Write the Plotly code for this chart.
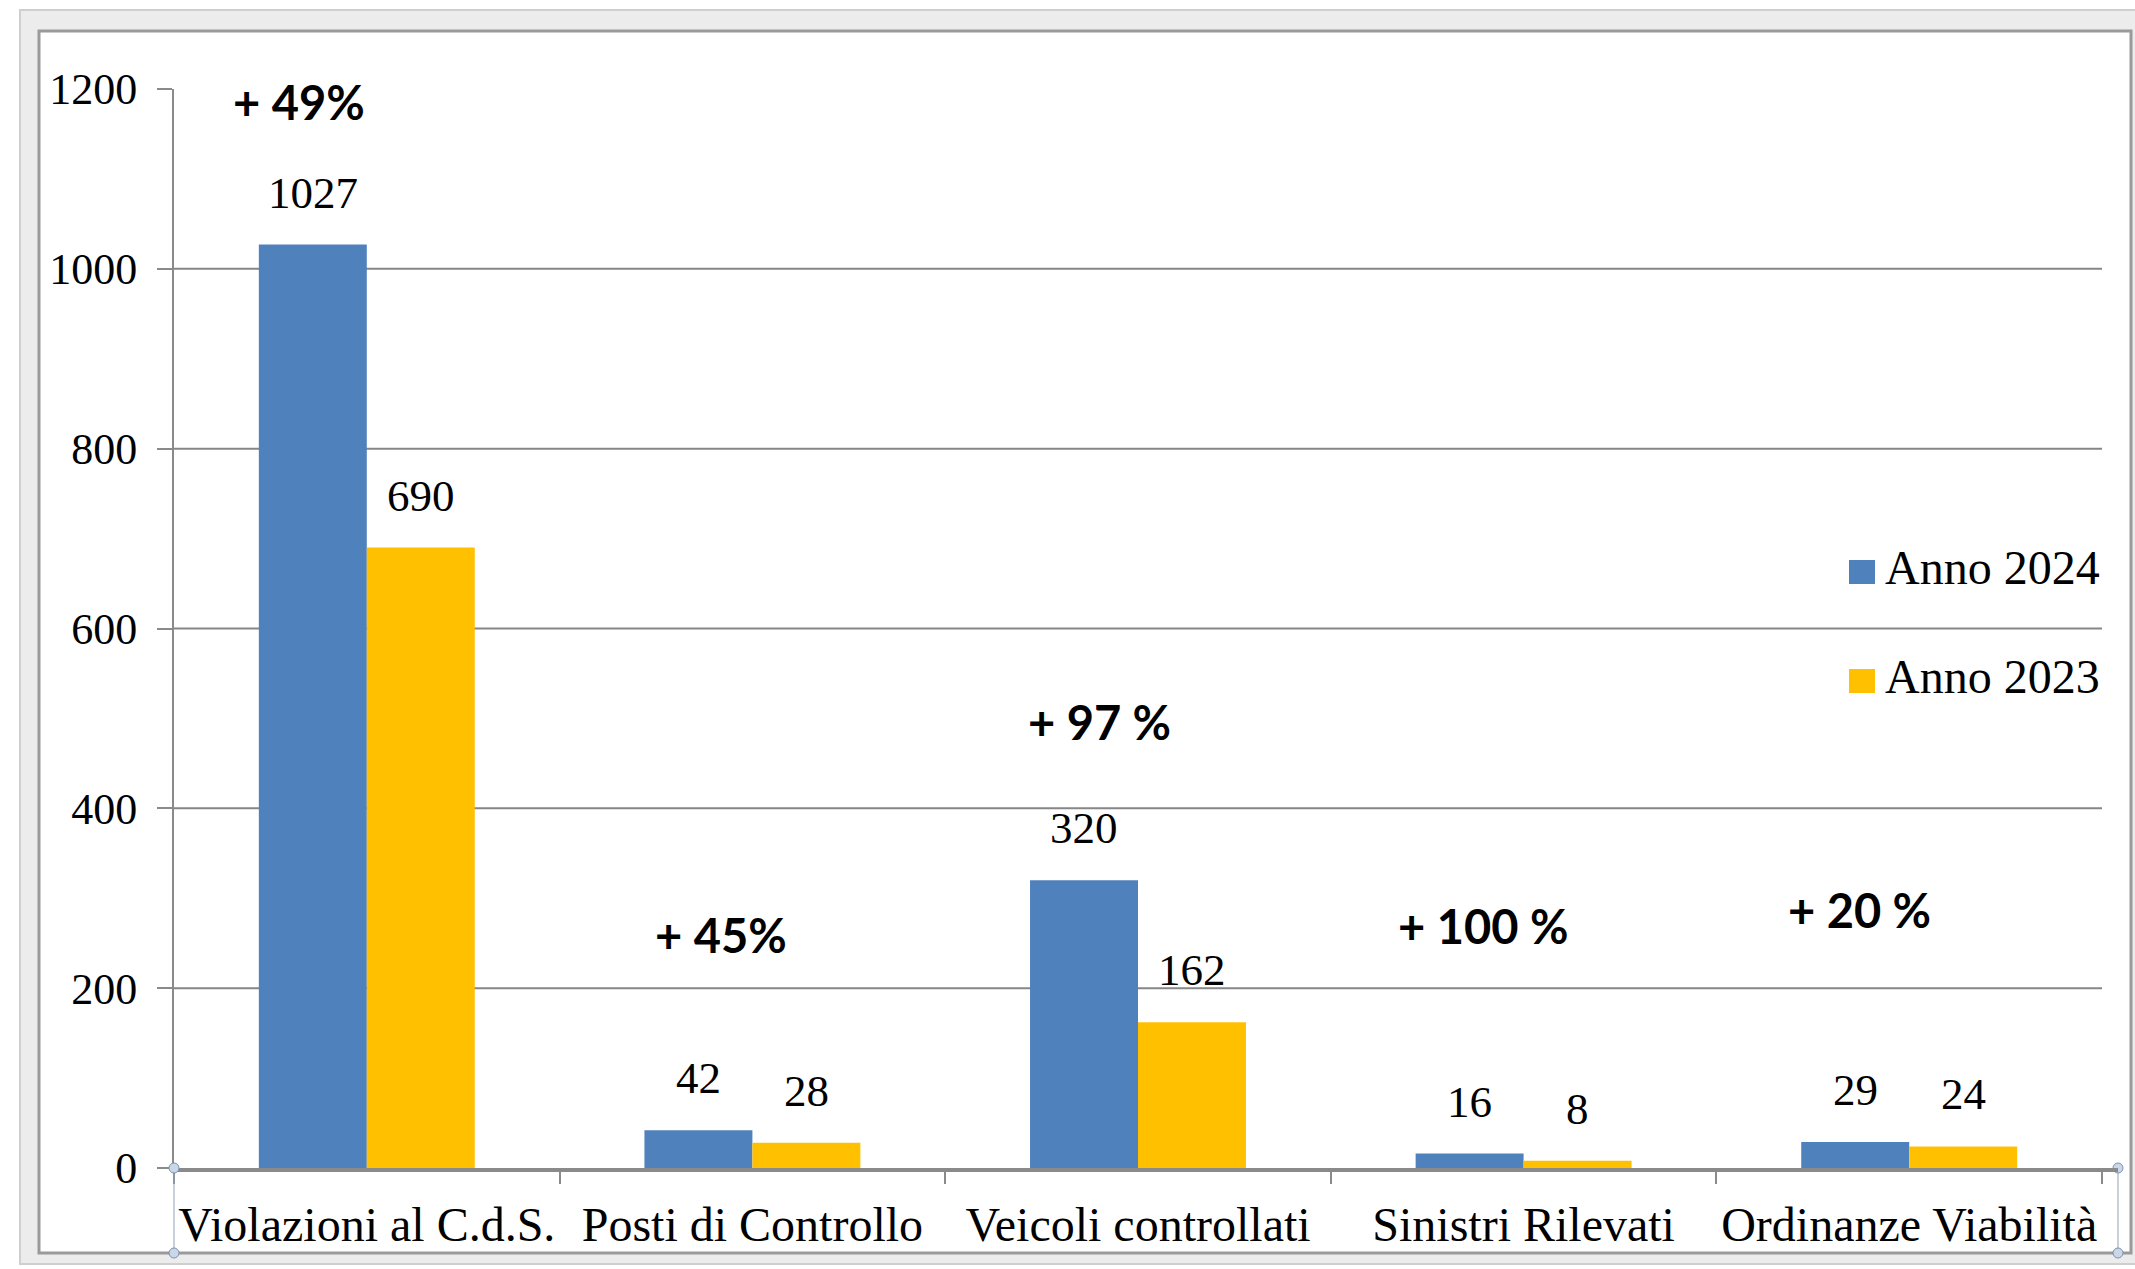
import plotly.graph_objects as go

# ---------------- data ----------------
categories = ["Violazioni al C.d.S.", "Posti di Controllo", "Veicoli controllati",
              "Sinistri Rilevati", "Ordinanze Viabilità"]
anno_2024 = [1027, 42, 320, 16, 29]
anno_2023 = [690, 28, 162, 8, 24]
variazioni = ["+ 49%", "+ 45%", "+ 97 %", "+ 100 %", "+ 20 %"]
y_ticks = [0, 200, 400, 600, 800, 1000, 1200]
series_names = ["Anno 2024", "Anno 2023"]

# ---------------- layout constants ----------------
W, H = 2135, 1269
ML, MR, MT, MB = 174, 33, 89, 101
PW = W - ML - MR
PH = H - MT - MB


def px(x):
    return (x - ML) / PW


def py(y):
    return (H - MB - y) / PH


BLUE = "#4F81BD"
GOLD = "#FFC000"
GRID = "#868686"
AXIS = "#8a8a8a"
SERIF = "Liberation Serif, Times New Roman, serif"
BARGAP = 0.44
HALF = (1 - BARGAP) / 4  # offset of each bar centre from category centre

# positions (category index, y value) of the percentage labels
pct_pos = [(-0.175, 1185), (0.919, 259), (1.901, 496), (2.894, 269), (3.872, 287)]

fig = go.Figure()
fig.add_trace(go.Bar(x=categories, y=anno_2024, name=series_names[0],
                     marker=dict(color=BLUE, line=dict(width=0)), showlegend=False))
fig.add_trace(go.Bar(x=categories, y=anno_2023, name=series_names[1],
                     marker=dict(color=GOLD, line=dict(width=0)), showlegend=False))

annotations = []
# value labels
for vals, off in ((anno_2024, -HALF), (anno_2023, HALF)):
    for i, v in enumerate(vals):
        annotations.append(dict(x=i + off, y=v, xref="x", yref="y", text=str(v),
                                showarrow=False, yanchor="middle", xanchor="center",
                                yshift=52, font=dict(family=SERIF, size=45, color="black")))
# percentage labels
for (xx, yy), t in zip(pct_pos, variazioni):
    annotations.append(dict(x=xx, y=yy, xref="x", yref="y", text="<b>" + t + "</b>",
                            showarrow=False, yanchor="middle", xanchor="center",
                            font=dict(family="Lato, Open Sans, sans-serif", size=47, color="black")))
# legend texts
legend_y = [567.5, 676.5]
for name, ly in zip(series_names, legend_y):
    annotations.append(dict(x=px(1883), y=py(ly), xref="paper", yref="paper", text=name,
                            showarrow=False, xanchor="left", yanchor="middle",
                            font=dict(family=SERIF, size=48, color="black")))

shapes = []
# outer frame
shapes.append(dict(type="rect", xref="paper", yref="paper", x0=px(20), x1=px(2145),
                   y0=py(10), y1=py(1264), fillcolor="#ececec",
                   line=dict(color="#cfcfcf", width=2), layer="below"))
shapes.append(dict(type="rect", xref="paper", yref="paper", x0=px(39), x1=px(2131),
                   y0=py(31), y1=py(1253), fillcolor="white",
                   line=dict(color="#9a9a9a", width=3), layer="below"))
# gridlines (not at 0 nor at top)
for v in y_ticks[1:-1]:
    shapes.append(dict(type="line", xref="paper", yref="y", x0=0, x1=1, y0=v, y1=v,
                       line=dict(color=GRID, width=2), layer="below"))
# selection handles of the category-axis area
for hx in (174, 2118):
    shapes.append(dict(type="line", xref="paper", yref="paper", x0=px(hx), x1=px(hx),
                       y0=py(1168), y1=py(1253), line=dict(color="#8fa2b8", width=1)))
    for hy in (1168, 1253):
        shapes.append(dict(type="circle", xref="paper", yref="paper",
                           x0=px(hx - 5), x1=px(hx + 5), y0=py(hy - 5), y1=py(hy + 5),
                           fillcolor="#c9d7e8", line=dict(color="#7d92ad", width=1)))
shapes.append(dict(type="line", xref="paper", yref="paper", x0=1, x1=px(2118),
                   y0=py(1170), y1=py(1170), line=dict(color=AXIS, width=4)))
# legend keys
for col, (y0, y1) in zip((BLUE, GOLD), ((560, 584), (669, 693))):
    shapes.append(dict(type="rect", xref="paper", yref="paper", x0=px(1849), x1=px(1875),
                       y0=py(y0), y1=py(y1), fillcolor=col, line=dict(width=0)))

fig.update_layout(
    width=W, height=H,
    margin=dict(l=ML, r=MR, t=MT, b=MB, pad=0),
    paper_bgcolor="white", plot_bgcolor="rgba(0,0,0,0)",
    barmode="group", bargap=BARGAP, bargroupgap=0,
    showlegend=False,
    annotations=annotations, shapes=shapes,
    xaxis=dict(type="category", categoryorder="array", categoryarray=categories,
               range=[-0.5, 4.5], showline=True, linecolor=AXIS, linewidth=4,
               ticks="outside", tickson="boundaries", ticklen=12, tickwidth=2,
               tickcolor=AXIS, tickangle=0, ticklabelstandoff=11,
               tickfont=dict(family=SERIF, size=48, color="black"),
               showgrid=False, zeroline=False, fixedrange=True),
    yaxis=dict(range=[0, 1200], tickvals=y_ticks, showgrid=False, zeroline=False,
               showline=True, linecolor=AXIS, linewidth=2, ticks="outside",
               ticklen=15, tickwidth=2, tickcolor=AXIS, ticklabelstandoff=11,
               tickfont=dict(family=SERIF, size=44, color="black"), fixedrange=True),
)

fig.write_html("out.html", config={"displayModeBar": False},
               post_script="document.body.style.margin='0';document.body.style.overflow='hidden';")
